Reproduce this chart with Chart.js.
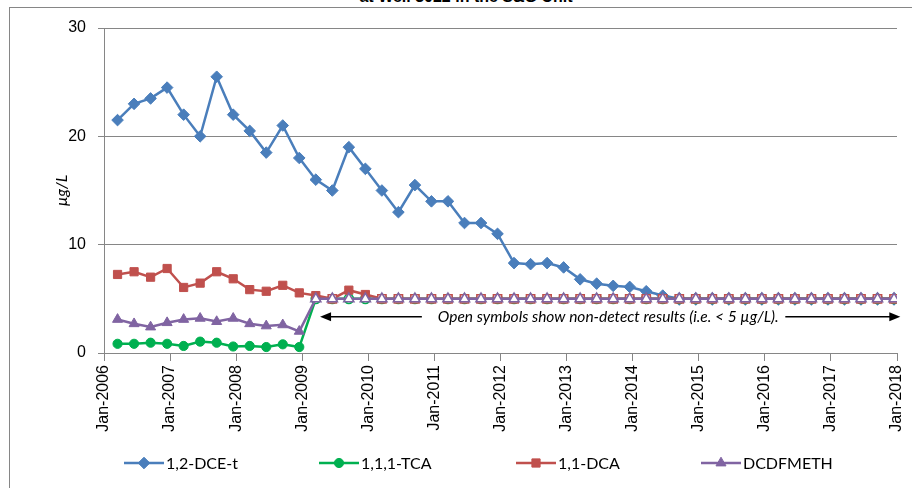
<!DOCTYPE html>
<html>
<head>
<meta charset="utf-8">
<script src="https://cdn.jsdelivr.net/npm/chart.js@4.4.1/dist/chart.umd.min.js"></script>
<style>
  html, body { margin: 0; padding: 0; background: #fff; }
  #wrap { position: relative; width: 912px; height: 488px; overflow: hidden; }
  #frame { position: absolute; left: 9px; top: 7px; width: 930px; height: 520px; border: 1px solid #868686; }
  #title { position: absolute; left: 0; top: -12px; width: 932px; text-align: center;
           font: bold 16px "Liberation Sans", Arial, sans-serif; color: #000; }
  canvas { position: absolute; left: 0; top: 0; }
</style>
</head>
<body>
<div id="wrap">
  <div id="frame"></div>
  <div id="title">at Well 3022 in the S&amp;G Unit</div>
  <canvas id="chart" width="912" height="488"></canvas>
</div>
<script>
// sampling dates (quarterly)
const sampleDates = [
  '2006-03-15', '2006-06-15', '2006-09-15', '2006-12-15',
  '2007-03-15', '2007-06-15', '2007-09-15', '2007-12-15',
  '2008-03-15', '2008-06-15', '2008-09-15', '2008-12-15',
  '2009-03-15', '2009-06-15', '2009-09-15', '2009-12-15',
  '2010-03-15', '2010-06-15', '2010-09-15', '2010-12-15',
  '2011-03-15', '2011-06-15', '2011-09-15', '2011-12-15',
  '2012-03-15', '2012-06-15', '2012-09-15', '2012-12-15',
  '2013-03-15', '2013-06-15', '2013-09-15', '2013-12-15',
  '2014-03-15', '2014-06-15', '2014-09-15', '2014-12-15',
  '2015-03-15', '2015-06-15', '2015-09-15', '2015-12-15',
  '2016-03-15', '2016-06-15', '2016-09-15', '2016-12-15',
  '2017-03-15', '2017-06-15', '2017-09-15', '2017-12-15'
];

// concentrations, ug/L
const dceT = [
  21.5, 23.0, 23.5, 24.5,  22.0, 20.0, 25.5, 22.0,  20.5, 18.5, 21.0, 18.0,
  16.0, 15.0, 19.0, 17.0,  15.0, 13.0, 15.5, 14.0,  14.0, 12.0, 12.0, 11.0,
  8.3, 8.2, 8.3, 7.9,      6.8, 6.4, 6.2, 6.1,      5.7, 5.3, 5, 5,
  5, 5, 5, 5,              5, 5, 5, 5,              5, 5, 5, 5
];
const tca111 = [
  0.85, 0.85, 0.95, 0.85,  0.65, 1.05, 0.95, 0.6,   0.65, 0.55, 0.8, 0.55,
  5, 5, 5, 5,  5, 5, 5, 5,  5, 5, 5, 5,  5, 5, 5, 5,  5, 5, 5, 5,  5, 5, 5, 5,
  5, 5, 5, 5,  5, 5, 5, 5,  5, 5, 5, 5
];
const dca11 = [
  7.25, 7.5, 7.0, 7.8,     6.05, 6.45, 7.5, 6.85,   5.85, 5.7, 6.25, 5.55,
  5.3, 5, 5.8, 5.4,  5, 5, 5, 5,  5, 5, 5, 5,  5, 5, 5, 5,  5, 5, 5, 5,  5, 5, 5, 5,
  5, 5, 5, 5,  5, 5, 5, 5,  5, 5, 5, 5
];
const dcdfmeth = [
  3.1, 2.7, 2.4, 2.8,      3.1, 3.2, 2.9, 3.2,      2.7, 2.5, 2.6, 2.0,
  5, 5, 5, 5,  5, 5, 5, 5,  5, 5, 5, 5,  5, 5, 5, 5,  5, 5, 5, 5,  5, 5, 5, 5,
  5, 5, 5, 5,  5, 5, 5, 5,  5, 5, 5, 5
];

// 1 = detected (filled symbol), 0 = non-detect (open symbol)
const dceTDetect = [
  1,1,1,1, 1,1,1,1, 1,1,1,1, 1,1,1,1, 1,1,1,1, 1,1,1,1,
  1,1,1,1, 1,1,1,1, 1,1,0,0, 0,0,0,0, 0,0,0,0, 0,0,0,0
];
const tca111Detect = [
  1,1,1,1, 1,1,1,1, 1,1,1,1, 0,0,0,0, 0,0,0,0, 0,0,0,0,
  0,0,0,0, 0,0,0,0, 0,0,0,0, 0,0,0,0, 0,0,0,0, 0,0,0,0
];
const dca11Detect = [
  1,1,1,1, 1,1,1,1, 1,1,1,1, 1,0,1,1, 0,0,0,0, 0,0,0,0,
  0,0,0,0, 0,0,0,0, 0,0,0,0, 0,0,0,0, 0,0,0,0, 0,0,0,0
];
const dcdfmethDetect = [
  1,1,1,1, 1,1,1,1, 1,1,1,1, 0,0,0,0, 0,0,0,0, 0,0,0,0,
  0,0,0,0, 0,0,0,0, 0,0,0,0, 0,0,0,0, 0,0,0,0, 0,0,0,0
];

const seriesNames = ['1,2-DCE-t', '1,1,1-TCA', '1,1-DCA', 'DCDFMETH'];
const yearTicks = [2006, 2007, 2008, 2009, 2010, 2011, 2012, 2013, 2014, 2015, 2016, 2017, 2018];

// note on the chart
const noteText = 'Open symbols show non-detect results (i.e. < 5 \u00b5g/L).';
const noteY = 3.35;
const noteX = 2013.63;
const arrowLeft = [2010.81, 2009.27];   // tail, tip
const arrowRight = [2016.31, 2018.05];

function toYear(s) {
    const [y, m, d] = s.split('-').map(Number);
    return y + ((m - 1) + (d - 1) / 30.4) / 12;
}
const xs = sampleDates.map(toYear);

function makeSet(label, values, detect, color, style, radius, order) {
    return {
        label: label,
        data: values.map((v, i) => ({ x: xs[i], y: v })),
        borderColor: color,
        borderWidth: 2.5,
        pointStyle: style,
        pointRadius: radius,
        pointBorderColor: color,
        pointBackgroundColor: ctx => detect[ctx.dataIndex] ? color : '#ffffff',
        pointBorderWidth: ctx => detect[ctx.dataIndex] ? 1 : 1.6,
        tension: 0,
        order: order
    };
}

const datasets = [
    makeSet(seriesNames[0], dceT, dceTDetect, '#4A7EBB', 'rectRot', 5.8, 3),
    makeSet(seriesNames[1], tca111, tca111Detect, '#00B050', 'circle', 4.6, 2),
    makeSet(seriesNames[2], dca11, dca11Detect, '#C0504D', 'rect', 5.8, 1),
    makeSet(seriesNames[3], dcdfmeth, dcdfmethDetect, '#8064A2', 'triangle', 5.8, 0)
];

// legend: line with marker in the middle, like the spreadsheet
const legendX = [124, 319, 516, 701];
const legendY = 463;
const lineLegend = {
    id: 'lineLegend',
    afterDraw(chart) {
        const ctx = chart.ctx;
        ctx.save();
        datasets.forEach((ds, i) => {
            const x0 = legendX[i];
            ctx.strokeStyle = ds.borderColor;
            ctx.lineWidth = 2.5;
            ctx.beginPath();
            ctx.moveTo(x0, legendY);
            ctx.lineTo(x0 + 40, legendY);
            ctx.stroke();
            ctx.fillStyle = ds.borderColor;
            ctx.lineWidth = 1;
            Chart.helpers.drawPoint(ctx, { pointStyle: ds.pointStyle, radius: ds.pointRadius, borderWidth: 1 }, x0 + 20, legendY);
            ctx.fillStyle = '#000';
            ctx.font = '16px Lato';
            ctx.textBaseline = 'middle';
            ctx.textAlign = 'left';
            ctx.fillText(ds.label, x0 + 42, legendY + 1);
        });
        ctx.restore();
    }
};

function arrow(ctx, x1, x2, y) {
    const dir = Math.sign(x2 - x1);
    ctx.beginPath();
    ctx.moveTo(x1, y);
    ctx.lineTo(x2 - dir * 9, y);
    ctx.stroke();
    ctx.beginPath();
    ctx.moveTo(x2, y);
    ctx.lineTo(x2 - dir * 11, y - 4.5);
    ctx.lineTo(x2 - dir * 11, y + 4.5);
    ctx.closePath();
    ctx.fill();
}

const noteLabel = {
    id: 'noteLabel',
    afterDatasetsDraw(chart) {
        const { ctx, scales: { x, y } } = chart;
        const py = y.getPixelForValue(noteY);
        ctx.save();
        ctx.strokeStyle = '#000';
        ctx.fillStyle = '#000';
        ctx.lineWidth = 1.5;
        arrow(ctx, x.getPixelForValue(arrowLeft[0]), x.getPixelForValue(arrowLeft[1]), py);
        arrow(ctx, x.getPixelForValue(arrowRight[0]), x.getPixelForValue(arrowRight[1]), py);
        ctx.font = 'italic 15.5px Lato';
        ctx.textAlign = 'center';
        ctx.textBaseline = 'middle';
        ctx.fillText(noteText, x.getPixelForValue(noteX), py);
        ctx.restore();
    }
};

const gray = '#868686';

new Chart(document.getElementById('chart'), {
    type: 'line',
    data: { datasets: datasets },
    options: {
        responsive: false,
        animation: false,
        layout: { padding: { left: 10, top: 28, right: 15, bottom: 0 } },
        plugins: {
            legend: { display: false },
            tooltip: { enabled: false }
        },
        scales: {
            x: {
                type: 'linear',
                min: yearTicks[0],
                max: yearTicks[yearTicks.length - 1],
                afterBuildTicks: scale => { scale.ticks = yearTicks.map(v => ({ value: v })); },
                afterFit: scale => {
                    scale.height = 135;
                    scale.paddingLeft = 0;
                    scale.paddingRight = 0;
                },
                grid: { drawOnChartArea: false, color: gray, tickLength: 8, lineWidth: 1 },
                border: { color: gray, width: 1 },
                ticks: {
                    autoSkip: false,
                    maxRotation: 90,
                    minRotation: 90,
                    padding: 4,
                    color: '#000',
                    font: { family: 'Liberation Sans', size: 16 },
                    callback: v => 'Jan-' + v
                }
            },
            y: {
                min: 0,
                max: 30,
                afterFit: scale => { scale.width = 94; },
                grid: { color: gray, tickLength: 6, lineWidth: 1 },
                border: { color: gray, width: 1 },
                ticks: {
                    stepSize: 10,
                    padding: 12,
                    color: '#000',
                    font: { family: 'Liberation Sans', size: 16 }
                },
                title: {
                    display: true,
                    text: '\u00b5g/L',
                    color: '#000',
                    font: { family: 'Lato', size: 16, style: 'italic' },
                    padding: { top: 42, bottom: 0 }
                }
            }
        }
    },
    plugins: [lineLegend, noteLabel]
});
</script>
</body>
</html>
